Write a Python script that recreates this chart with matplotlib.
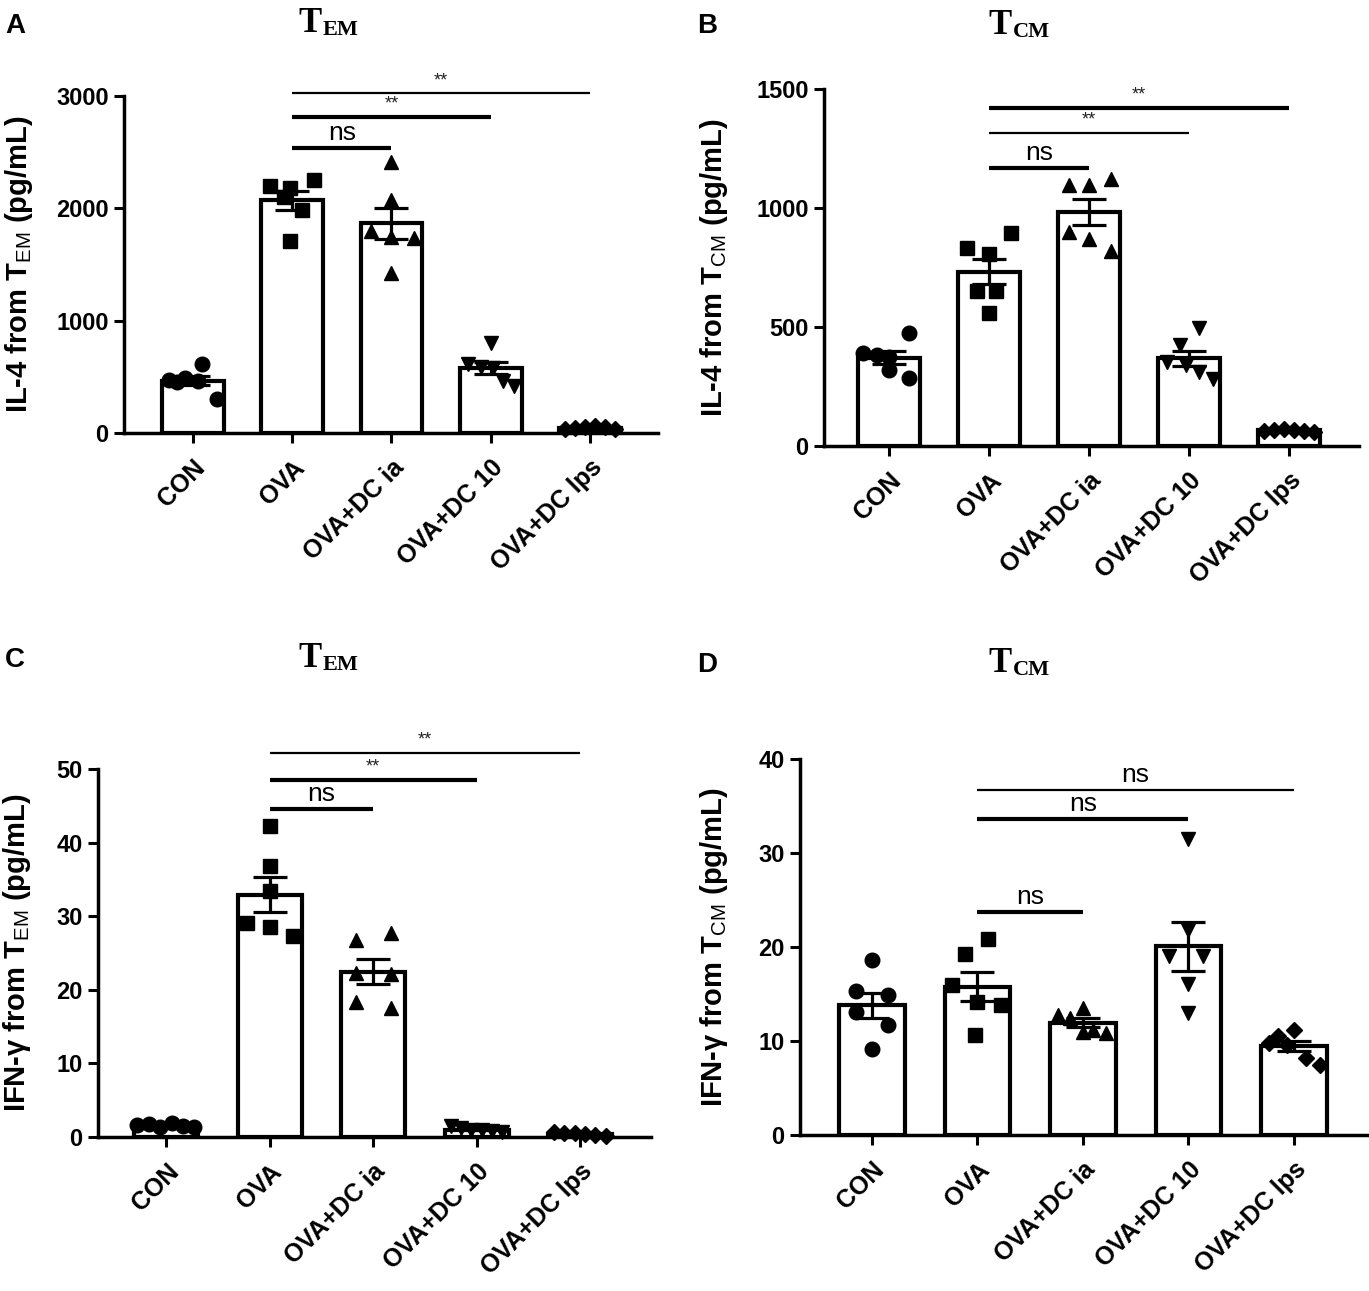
"""
Cytokine bar charts -- IL-4 / IFN-g from TEM and TCM cells
Bars = mean, error bars = SEM, dots = individual mice.
"""
import numpy as np
import matplotlib
matplotlib.use("Agg")
import matplotlib.pyplot as plt

plt.rcParams["font.family"] = ["Liberation Sans", "DejaVu Sans"]
plt.rcParams["mathtext.fontset"] = "custom"
plt.rcParams["mathtext.rm"] = "Liberation Sans"
plt.rcParams["mathtext.bf"] = "Liberation Sans:bold"

# ── Data ──
GROUPS = ["CON", "OVA", "OVA+DC ia", "OVA+DC 10", "OVA+DC lps"]

IL4_TEM = [
    [470, 490, 610, 460, 300, 450],
    [2200, 2180, 2250, 2105, 1985, 1705],
    [2416, 2075, 1794, 1749, 1734, 1423],
    [800, 610, 590, 575, 460, 420],
    [40, 45, 55, 60, 50, 35],
]
IL4_TCM = [
    [390, 375, 383, 320, 475, 285],
    [834, 806, 894, 651, 651, 560],
    [1095, 1095, 1123, 898, 870, 820],
    [495, 425, 355, 340, 312, 280],
    [65, 68, 72, 66, 63, 60],
]
IFNG_TEM = [
    [1.6, 1.8, 1.4, 1.9, 1.5, 1.3],
    [42.3, 36.8, 33.4, 29.1, 28.5, 27.3],
    [26.8, 27.7, 22.3, 22.1, 18.4, 17.5],
    [1.5, 1.2, 1.0, 0.9, 0.8, 0.7],
    [0.7, 0.5, 0.6, 0.4, 0.3, 0.2],
]
IFNG_TCM = [
    [18.6, 15.3, 14.9, 13.1, 11.7, 9.2],
    [20.8, 19.3, 16.0, 14.2, 13.8, 10.6],
    [13.5, 12.8, 12.4, 11.0, 11.2, 10.8],
    [31.5, 21.8, 19.0, 19.0, 16.1, 13.0],
    [11.2, 10.5, 9.8, 9.6, 8.2, 7.5],
]

# significance brackets: (target group, y, label, thick?)
SIG_A = [(2, 2535, "ns", True), (3, 2817, "**", True), (4, 3024, "**", False)]
SIG_B = [(2, 1170, "ns", True), (3, 1317, "**", False), (4, 1420, "**", True)]
SIG_C = [(2, 44.6, "ns", True), (3, 48.5, "**", True), (4, 52.2, "**", False)]
SIG_D = [(2, 23.7, "ns", True), (3, 33.6, "ns", True), (4, 36.7, "ns", False)]

# ── Layout ──
W, H = 1369, 1291
MARKERS = ["o", "s", "^", "v", "D"]
MSIZE = [10.5, 10, 10.5, 10.5, 8.5]

# horizontal scatter of dots inside each bar (GraphPad style)
SPREAD = {
    "A": [[-0.24, -0.08, 0.09, 0.05, 0.24, -0.16],
          [-0.22, -0.02, 0.22, -0.08, 0.10, -0.02],
          [0.0, 0.0, -0.21, 0.0, 0.23, 0.0],
          [0.0, -0.23, -0.10, 0.02, 0.12, 0.23],
          [-0.25, -0.15, -0.05, 0.05, 0.15, 0.25]],
    "B": [[-0.26, 0.0, -0.12, 0.0, 0.20, 0.20],
          [-0.22, 0.0, 0.22, -0.12, 0.07, 0.0],
          [-0.20, 0.0, 0.22, -0.20, 0.0, 0.22],
          [0.10, -0.09, -0.22, -0.03, 0.10, 0.24],
          [-0.25, -0.15, -0.05, 0.05, 0.15, 0.25]],
    "C": [[-0.28, -0.17, -0.06, 0.05, 0.16, 0.27],
          [0.0, 0.0, 0.0, -0.22, 0.0, 0.22],
          [-0.17, 0.17, -0.17, 0.17, -0.17, 0.17],
          [-0.25, -0.15, -0.05, 0.05, 0.15, 0.25],
          [-0.25, -0.15, -0.05, 0.05, 0.15, 0.25]],
    "D": [[0.0, -0.15, 0.15, -0.15, 0.15, 0.0],
          [0.10, -0.12, -0.24, 0.0, 0.22, -0.02],
          [0.0, -0.24, -0.12, 0.0, 0.10, 0.22],
          [0.0, 0.0, -0.18, 0.14, 0.0, 0.0],
          [0.0, -0.15, -0.24, -0.07, 0.11, 0.25]],
}

PANELS = [
    dict(key="A", data=IL4_TEM, sig=SIG_A, box=(124, 658, 96, 433), xlim=(-0.695, 4.685),
         ylim=(0, 3000), yticks=[0, 1000, 2000, 3000],
         ylabel=r"IL-4 from T$_{\mathrm{EM}}$ (pg/mL)", ylab_x=19,
         sub="EM", title_xy=(298, 32), letter_xy=(5, 33)),
    dict(key="B", data=IL4_TCM, sig=SIG_B, box=(824, 1359, 89, 446), xlim=(-0.65, 4.70),
         ylim=(0, 1500), yticks=[0, 500, 1000, 1500],
         ylabel=r"IL-4 from T$_{\mathrm{CM}}$ (pg/mL)", ylab_x=714,
         sub="CM", title_xy=(988, 34), letter_xy=(697, 33)),
    dict(key="C", data=IFNG_TEM, sig=SIG_C, box=(98, 651, 769, 1137), xlim=(-0.662, 4.687),
         ylim=(0, 50), yticks=[0, 10, 20, 30, 40, 50],
         ylabel=r"IFN-γ from T$_{\mathrm{EM}}$ (pg/mL)", ylab_x=17,
         sub="EM", title_xy=(298, 667), letter_xy=(5, 667)),
    dict(key="D", data=IFNG_TCM, sig=SIG_D, box=(800, 1369, 759, 1135), xlim=(-0.68, 4.71),
         ylim=(0, 40), yticks=[0, 10, 20, 30, 40],
         ylabel=r"IFN-γ from T$_{\mathrm{CM}}$ (pg/mL)", ylab_x=714,
         sub="CM", title_xy=(988, 672), letter_xy=(697, 672)),
]


def fx(x):
    return x / W


def fy(y):
    return 1 - y / H


def draw_panel(fig, p):
    left, right, top, bottom = p["box"]
    ax = fig.add_axes([fx(left), fy(bottom), (right - left) / W, (bottom - top) / H])

    means = [np.mean(v) for v in p["data"]]
    sems = [np.std(v, ddof=1) / np.sqrt(len(v)) for v in p["data"]]
    x = np.arange(len(GROUPS))

    ax.bar(x, means, width=0.62, color="white", edgecolor="black", linewidth=3, zorder=2)
    ax.errorbar(x, means, yerr=sems, fmt="none", ecolor="black", elinewidth=2.3,
                capsize=12, capthick=2.3, zorder=3)
    for i, vals in enumerate(p["data"]):
        xs = i + np.array(SPREAD[p["key"]][i])
        ax.plot(xs, vals, linestyle="none", marker=MARKERS[i], markersize=MSIZE[i],
                color="black", zorder=4, clip_on=False)

    # significance lines, all from OVA
    for tgt, yv, lab, thick in p["sig"]:
        ax.plot([1, tgt], [yv, yv], color="black", lw=3.0 if thick else 1.6,
                solid_capstyle="butt", clip_on=False, zorder=5)
        if lab == "ns":
            ax.annotate(lab, ((1 + tgt) / 2, yv), xytext=(0, 2), textcoords="offset points",
                        ha="center", va="bottom", fontsize=19, annotation_clip=False)
        else:
            ax.annotate(lab, ((1 + tgt) / 2, yv), xytext=(0, 3), textcoords="offset points",
                        ha="center", va="bottom", fontsize=13, color="#222222",
                        annotation_clip=False)

    ax.set_xlim(*p["xlim"])
    ax.set_ylim(*p["ylim"])
    ax.set_yticks(p["yticks"])
    ax.set_xticks(x)
    ax.set_xticklabels(GROUPS, rotation=45, ha="right", rotation_mode="anchor",
                       fontsize=18, fontweight="bold")
    for t in ax.get_yticklabels():
        t.set_fontsize(17)
        t.set_fontweight("bold")
    ax.tick_params(axis="both", direction="out", length=7, width=2.2, pad=4)
    ax.tick_params(axis="x", pad=9)

    for s in ["top", "right"]:
        ax.spines[s].set_visible(False)
    for s in ["left", "bottom"]:
        ax.spines[s].set_linewidth(2.5)

    fig.text(fx(p["ylab_x"]), fy((top + bottom) / 2), p["ylabel"], rotation=90,
             ha="center", va="center", fontsize=21, fontweight="bold")

    # panel letter + serif title
    lx, ly = p["letter_xy"]
    fig.text(fx(lx), fy(ly), p["key"], fontsize=20, fontweight="bold", ha="left", va="baseline")
    tx, ty = p["title_xy"]
    fig.text(fx(tx), fy(ty), "T", family="Liberation Serif", fontweight="bold",
             fontsize=25, ha="left", va="baseline")
    fig.text(fx(tx + 25), fy(ty + 3), p["sub"], family="Liberation Serif", fontweight="bold",
             fontsize=16, ha="left", va="baseline")
    return ax


def main():
    fig = plt.figure(figsize=(W / 100, H / 100), dpi=100)
    for p in PANELS:
        draw_panel(fig, p)
    fig.savefig("out.png", dpi=100, facecolor="white")
    plt.close(fig)


if __name__ == "__main__":
    main()
